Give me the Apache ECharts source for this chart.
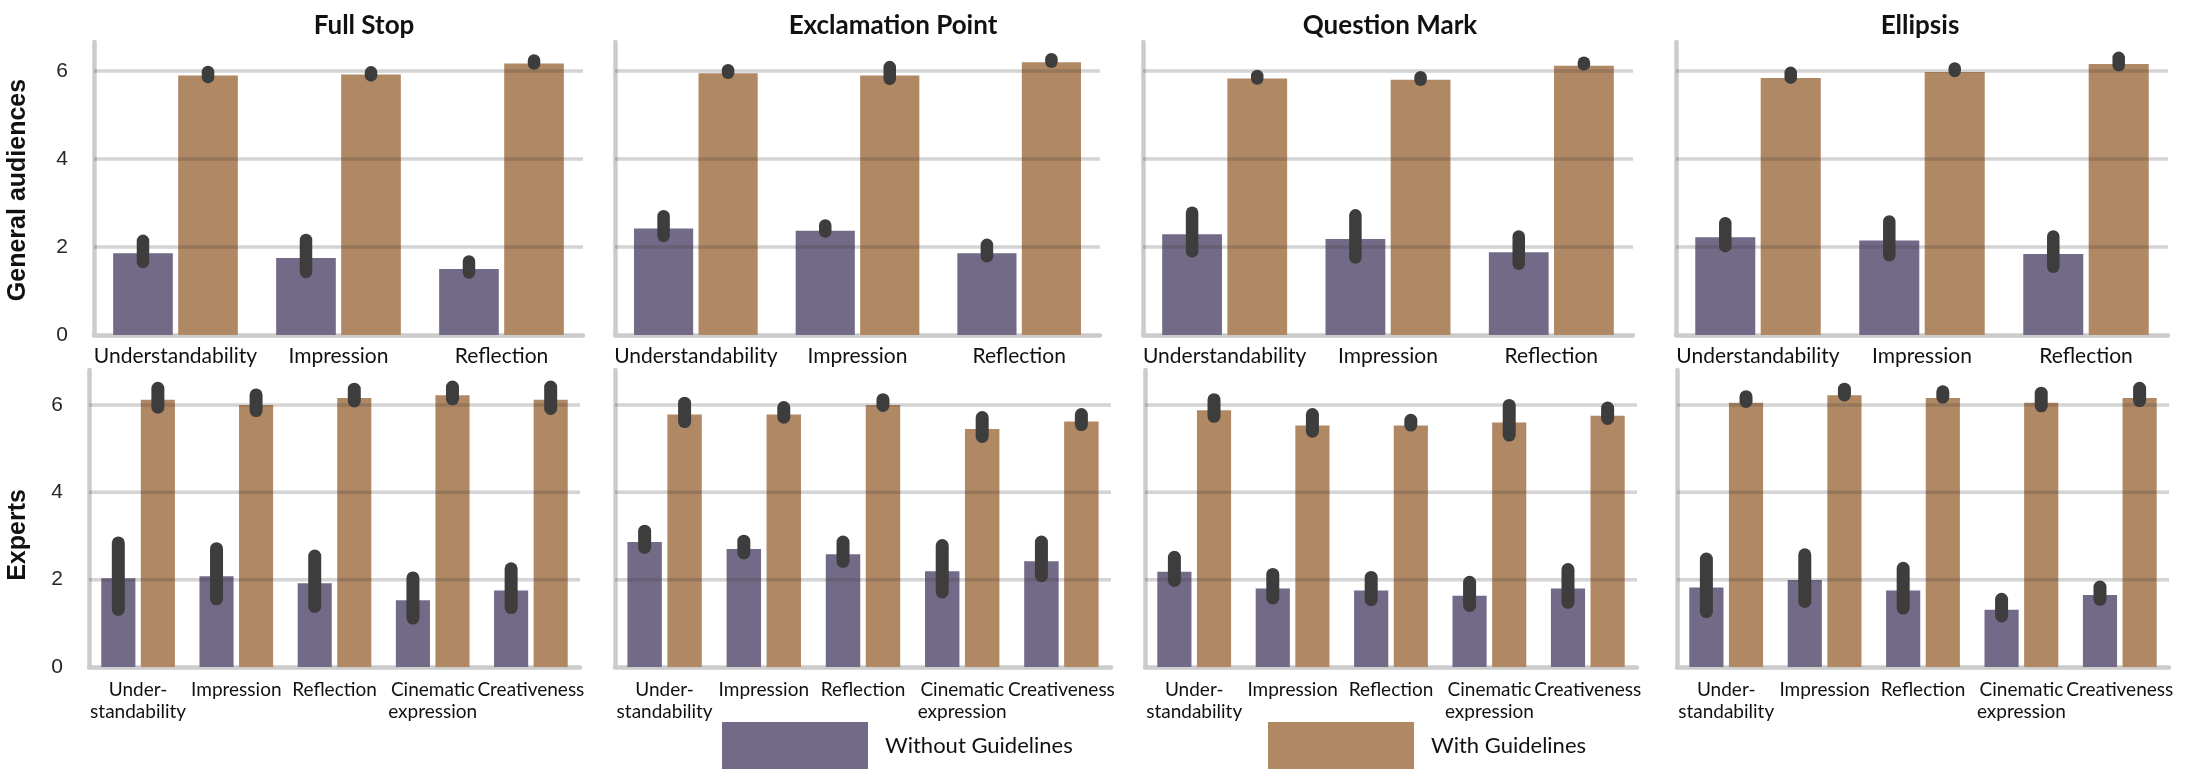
<!DOCTYPE html>
<html>
<head>
<meta charset="utf-8">
<title>Punctuation guidelines ratings</title>
<script src="https://cdn.jsdelivr.net/npm/echarts@6/dist/echarts.min.js"></script>
<style>
  html, body { margin: 0; padding: 0; background: #fff; }
  #chart { width: 2190px; height: 776px; }
</style>
</head>
<body>
<div id="chart"></div>
<script>
/*----------------------------- data --------------------*/
var marks = ['Full Stop', 'Exclamation Point', 'Question Mark', 'Ellipsis'];
var gaAspects = ['Understandability', 'Impression', 'Reflection'];
var exAspects = ['Under-\nstandability', 'Impression', 'Reflection', 'Cinematic\nexpression', 'Creativeness'];
var yTicks = [0, 2, 4, 6];
var hues = ['Without Guidelines', 'With Guidelines'];

// general audiences, one row per mark
var gaWithout = [[1.86, 1.75, 1.50], [2.42, 2.37, 1.86], [2.29, 2.18, 1.88], [2.22, 2.15, 1.84]];
var gaWithoutLow = [[1.66, 1.43, 1.42], [2.25, 2.35, 1.79], [1.90, 1.76, 1.62], [2.02, 1.81, 1.55]];
var gaWithoutHigh = [[2.14, 2.16, 1.67], [2.70, 2.49, 2.05], [2.78, 2.72, 2.24], [2.54, 2.58, 2.24]];
var gaWith = [[5.90, 5.92, 6.17], [5.95, 5.90, 6.20], [5.83, 5.80, 6.12], [5.84, 5.98, 6.16]];
var gaWithLow = [[5.86, 5.90, 6.17], [5.96, 5.82, 6.21], [5.83, 5.80, 6.15], [5.85, 6.00, 6.13]];
var gaWithHigh = [[5.98, 5.97, 6.24], [6.02, 6.09, 6.27], [5.89, 5.86, 6.19], [5.96, 6.06, 6.30]];

// experts, one row per mark
var exWithout = [[2.03, 2.08, 1.92, 1.53, 1.75], [2.86, 2.70, 2.58, 2.19, 2.42], [2.18, 1.80, 1.75, 1.63, 1.80], [1.82, 1.99, 1.75, 1.31, 1.65]];
var exWithoutLow = [[1.32, 1.56, 1.39, 1.12, 1.36], [2.74, 2.61, 2.42, 1.72, 2.09], [1.98, 1.58, 1.54, 1.41, 1.48], [1.27, 1.50, 1.35, 1.17, 1.55]];
var exWithoutHigh = [[2.84, 2.71, 2.54, 2.04, 2.25], [3.11, 2.88, 2.86, 2.78, 2.86], [2.51, 2.12, 2.05, 1.94, 2.23], [2.47, 2.57, 2.26, 1.55, 1.83]];
var exWith = [[6.12, 6.00, 6.16, 6.22, 6.12], [5.78, 5.78, 6.00, 5.45, 5.62], [5.88, 5.53, 5.53, 5.60, 5.75], [6.05, 6.22, 6.16, 6.05, 6.16]];
var exWithLow = [[5.95, 5.87, 6.09, 6.14, 5.92], [5.62, 5.72, 5.99, 5.28, 5.55], [5.74, 5.40, 5.54, 5.31, 5.69], [6.08, 6.23, 6.18, 5.98, 6.10]];
var exWithHigh = [[6.38, 6.23, 6.36, 6.41, 6.41], [6.04, 5.94, 6.12, 5.71, 5.78], [6.12, 5.78, 5.65, 5.99, 5.93], [6.19, 6.36, 6.30, 6.27, 6.38]];

/*----------------------------- layout --------------------*/
var purple = '#736a87';
var brown = '#b08864';
var axisGrey = '#cccccc';
var labelFont = 'Lato, "Open Sans", sans-serif';

var rows = [
  { top: 42, height: 293, max: 6.66, lefts: [94, 615, 1143, 1676], widths: [489, 485, 490, 492],
    barGap: 0.09, catGap: 0.235, errWidth: 12.5, fontSize: 21, margin: 10 },
  { top: 370, height: 297, max: 6.80, lefts: [89, 615, 1145, 1677], widths: [491, 496, 492, 492],
    barGap: 0.16, catGap: 0.25, errWidth: 13, fontSize: 19, margin: 12 }
];

var grids = [], xAxes = [], yAxes = [], series = [];

// error bar drawn over the dodged bar (hue 0 left, hue 1 right)
function errorBar(gap, catGap, lw) {
  return function (params, api) {
    var cat = api.value(0), hue = api.value(3);
    var band = api.size([1, 0])[0];
    var total = band * (1 - catGap);
    var w = total / (2 + gap);
    var off = -total / 2 + hue * w * (1 + gap) + w / 2;
    var p1 = api.coord([cat, api.value(1)]);
    var p2 = api.coord([cat, api.value(2)]);
    return {
      type: 'line',
      shape: { x1: p1[0] + off, y1: p1[1], x2: p2[0] + off, y2: p2[1] },
      style: { stroke: '#3d3d3d', lineWidth: lw, lineCap: 'round' }
    };
  };
}

// horizontal grid line, drawn above the bars
function gridLine(params, api) {
  var cs = params.coordSys;
  var y = api.coord([0, api.value(1)])[1];
  return {
    type: 'line',
    shape: { x1: cs.x, y1: y, x2: cs.x + cs.width, y2: y },
    style: { stroke: 'rgba(60,60,60,0.22)', lineWidth: 3.5 }
  };
}

function addPanel(r, c, cats, wo, woLo, woHi, wi, wiLo, wiHi) {
  var row = rows[r];
  var idx = grids.length;
  grids.push({ left: row.lefts[c], top: row.top, width: row.widths[c], height: row.height });
  xAxes.push({
    type: 'category', gridIndex: idx, data: cats,
    axisLine: { lineStyle: { color: axisGrey, width: 4.5 } },
    axisTick: { show: false },
    axisLabel: { interval: 0, fontFamily: labelFont, fontSize: row.fontSize, color: '#111',
      margin: row.margin, lineHeight: 22 }
  });
  yAxes.push({
    type: 'value', gridIndex: idx, min: 0, max: row.max, interval: 2,
    axisLine: { show: true, lineStyle: { color: axisGrey, width: 4.5 } },
    axisTick: { show: false },
    splitLine: { show: false },
    axisLabel: { show: c === 0, showMaxLabel: false, fontFamily: '"Liberation Sans", Arial, sans-serif',
      fontSize: 21, color: '#262626', margin: 26 }
  });
  var common = { type: 'bar', xAxisIndex: idx, yAxisIndex: idx,
    barGap: (row.barGap * 100) + '%', barCategoryGap: (row.catGap * 100) + '%' };
  series.push(Object.assign({ name: hues[0], data: wo, itemStyle: { color: purple } }, common));
  series.push(Object.assign({ name: hues[1], data: wi, itemStyle: { color: brown } }, common));

  var lines = yTicks.filter(function (t) { return t > 0; }).map(function (t) { return [0, t]; });
  series.push({ type: 'custom', xAxisIndex: idx, yAxisIndex: idx, z: 3, silent: true,
    renderItem: gridLine, encode: { x: 0, y: 1 }, data: lines });

  var errs = [];
  cats.forEach(function (cat, i) {
    errs.push([i, woLo[i], woHi[i], 0]);
    errs.push([i, wiLo[i], wiHi[i], 1]);
  });
  series.push({ type: 'custom', xAxisIndex: idx, yAxisIndex: idx, z: 4, silent: true,
    renderItem: errorBar(row.barGap, row.catGap, row.errWidth), encode: { x: 0, y: [1, 2] }, data: errs });
}

marks.forEach(function (m, c) {
  addPanel(0, c, gaAspects, gaWithout[c], gaWithoutLow[c], gaWithoutHigh[c], gaWith[c], gaWithLow[c], gaWithHigh[c]);
});
marks.forEach(function (m, c) {
  addPanel(1, c, exAspects, exWithout[c], exWithoutLow[c], exWithoutHigh[c], exWith[c], exWithLow[c], exWithHigh[c]);
});

/*----------------------------- titles --------------------*/
var titleX = [364, 893, 1390, 1920];
var graphics = marks.map(function (m, c) {
  return { type: 'text', x: titleX[c], y: 26,
    style: { text: m, fill: '#111', font: 'bold 26px ' + labelFont, align: 'center', verticalAlign: 'middle' } };
});
graphics.push({ type: 'text', x: 18, y: 190, rotation: Math.PI / 2,
  style: { text: 'General audiences', fill: '#111', font: 'bold 25px "Liberation Sans", Arial, sans-serif',
    align: 'center', verticalAlign: 'middle' } });
graphics.push({ type: 'text', x: 18, y: 535, rotation: Math.PI / 2,
  style: { text: 'Experts', fill: '#111', font: 'bold 25px "Liberation Sans", Arial, sans-serif',
    align: 'center', verticalAlign: 'middle' } });

/*----------------------------- chart --------------------*/
var legendBase = { icon: 'rect', itemWidth: 146, itemHeight: 47, top: 722, padding: 0,
  selectedMode: false, textStyle: { fontFamily: labelFont, fontSize: 22, color: '#111', padding: [0, 0, 0, 12] } };

var myChart = echarts.init(document.getElementById('chart'), null, { renderer: 'canvas' });
myChart.setOption({
  animation: false,
  backgroundColor: '#fff',
  grid: grids,
  xAxis: xAxes,
  yAxis: yAxes,
  legend: [
    Object.assign({ data: [hues[0]], left: 722 }, legendBase),
    Object.assign({ data: [hues[1]], left: 1268 }, legendBase)
  ],
  graphic: graphics,
  series: series
});
</script>
</body>
</html>
